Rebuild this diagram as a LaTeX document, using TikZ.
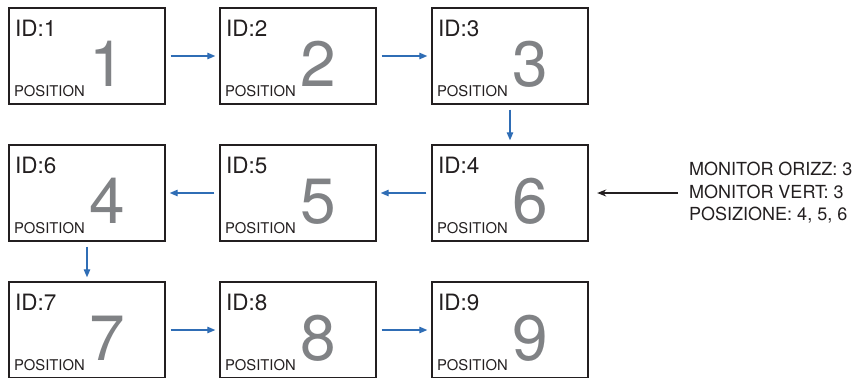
\documentclass[tikz,border=0pt]{standalone}
\usepackage{fontspec}
\setmainfont{TeX Gyre Heros}
\usepackage{xcolor}
\definecolor{ink}{HTML}{231F20}
\definecolor{flowc}{HTML}{2F6DB5}
\definecolor{numc}{HTML}{808285}
\usepackage{tikz}
\usetikzlibrary{positioning,arrows.meta,calc}

\begin{document}
\begin{tikzpicture}[x=1pt,y=-1pt,
  monbox/.style={draw=ink,line width=1.4pt,minimum width=156pt,minimum height=96pt,inner sep=0pt},
  idlabel/.style={anchor=base west,inner sep=0pt,text=ink,font=\fontsize{22.5}{26}\selectfont},
  poslabel/.style={anchor=base west,inner sep=0pt,text=ink,font=\fontsize{14.8}{17}\selectfont},
  numlabel/.style={anchor=base,inner sep=0pt,text=numc,font=\fontsize{64}{70}\selectfont},
  flow/.style={draw=flowc,line width=1.2pt,-{Triangle[length=8pt,width=6.5pt]},shorten >=4pt,shorten <=5pt}]
\useasboundingbox (0,0) rectangle (859,378);
\clip (0,0) rectangle (859,377.5);

% Monitor grid (ID / POSITION / centre x / centre y)
\foreach \id/\pos/\cx/\cy in {1/1/87/56, 2/2/298/56, 3/3/510/56,
                               4/6/510/193, 5/5/298/193, 6/4/87/193,
                               7/7/87/330, 8/8/298/330, 9/9/510/330} {
  \node[monbox] (mon\id) at (\cx,\cy) {};
  \node[idlabel] (id\id) at ($(mon\id.north west)+(6.5,29)$) {ID:\id};
  \node[poslabel] (pos\id) at ($(mon\id.south west)+(5.5,-8)$) {POSITION};
  \node[numlabel] (num\id) at ($(mon\id.south west)+(99,-18)$) {\pos};
}

% Daisy-chain order
\draw[flow] (mon1) -- (mon2);
\draw[flow] (mon2) -- (mon3);
\draw[flow] (mon3) -- (mon4);
\draw[flow] (mon4) -- (mon5);
\draw[flow] (mon5) -- (mon6);
\draw[flow] (mon6) -- (mon7);
\draw[flow] (mon7) -- (mon8);
\draw[flow] (mon8) -- (mon9);

% Settings note
\node[anchor=west,inner sep=0pt,align=left,text=ink,font=\fontsize{18}{22.5}\selectfont] (info) at (689,193)
  {MONITOR ORIZZ: 3\\MONITOR VERT: 3\\POSIZIONE: 4, 5, 6};
\draw[ink,line width=1.2pt,-{Stealth[length=9pt,width=7pt]},shorten >=8.5pt,shorten <=11pt] (info.west) -- (mon4.east);

\end{tikzpicture}
\end{document}
